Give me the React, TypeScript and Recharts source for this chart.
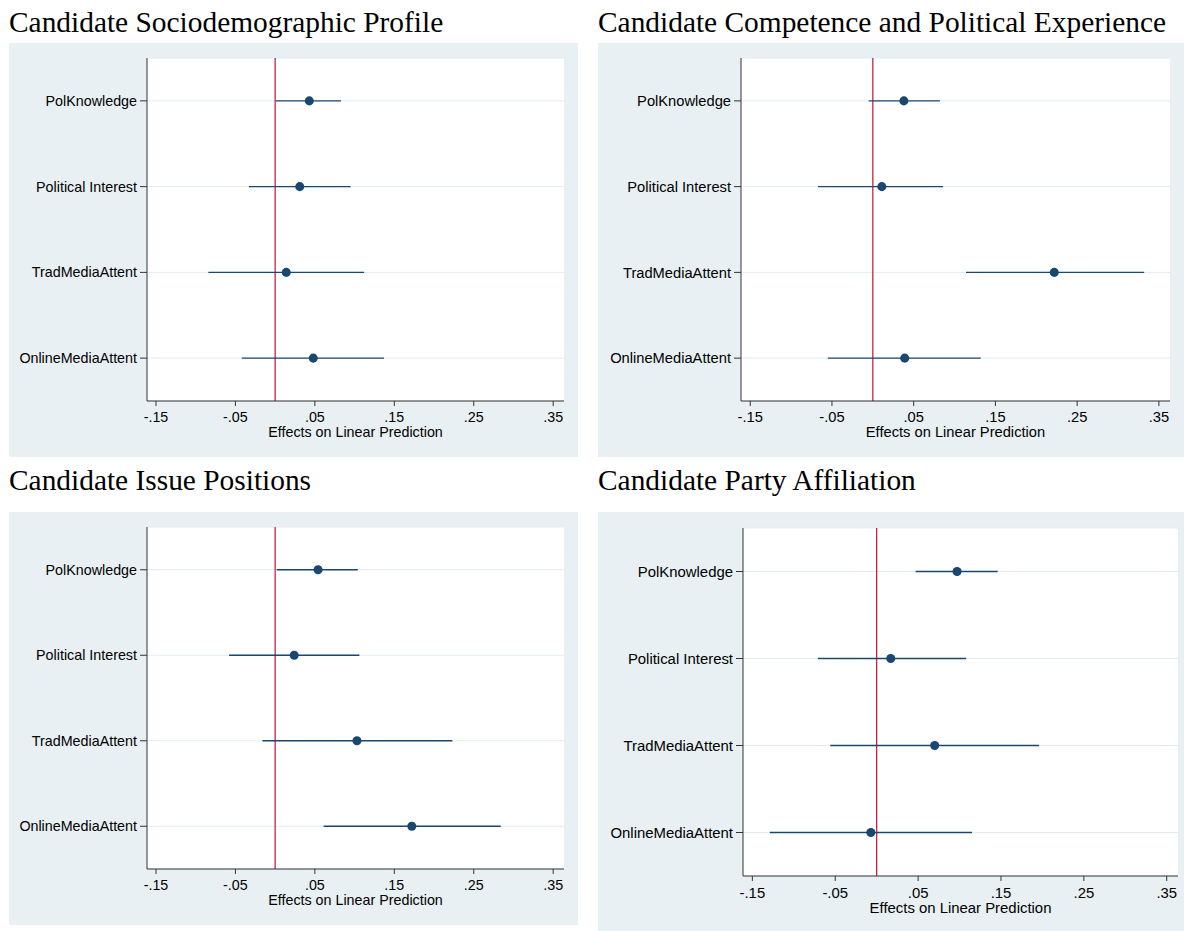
import React from 'react';
import {
  ScatterChart,
  Scatter,
  XAxis,
  YAxis,
  ZAxis,
  CartesianGrid,
  ReferenceLine,
  ErrorBar,
} from 'recharts';

const predictors = ['PolKnowledge', 'Political Interest', 'TradMediaAttent', 'OnlineMediaAttent'];
const xTicks = [-0.15, -0.05, 0.05, 0.15, 0.25, 0.35];

// point estimates and 95% CI bounds
const socioEst = [0.043, 0.031, 0.014, 0.048];
const socioLo = [0.001, -0.033, -0.084, -0.042];
const socioHi = [0.083, 0.095, 0.112, 0.137];

const compEst = [0.038, 0.011, 0.222, 0.039];
const compLo = [-0.005, -0.067, 0.114, -0.055];
const compHi = [0.082, 0.086, 0.332, 0.132];

const issueEst = [0.054, 0.024, 0.103, 0.172];
const issueLo = [0.002, -0.058, -0.016, 0.061];
const issueHi = [0.104, 0.106, 0.223, 0.284];

const partyEst = [0.097, 0.017, 0.07, -0.007];
const partyLo = [0.047, -0.071, -0.056, -0.129];
const partyHi = [0.146, 0.108, 0.196, 0.115];

const SANS = '"Liberation Sans", Arial, Helvetica, sans-serif';
const SERIF = '"Liberation Serif", "Times New Roman", serif';
const NAVY = '#1a476f';
const PANEL_BG = '#e9f0f3';

const fmtTick = (v: number) => v.toFixed(2).replace('0.', '.');

interface PanelProps {
  title: string;
  est: number[];
  lo: number[];
  hi: number[];
  box: { x: number; y: number; w: number; h: number };
  plot: { left: number; top: number; width: number; height: number };
  titleTop: number;
  fontSize: number;
}

const CoefPanel: React.FC<PanelProps> = ({ title, est, lo, hi, box, plot, titleTop, fontSize }) => {
  const data = predictors.map((name, i) => ({
    name,
    pos: i + 1,
    est: est[i],
    err: [est[i] - lo[i], hi[i] - est[i]],
  }));
  const bottom = box.h - plot.top - plot.height;
  const right = box.w - plot.left - plot.width;

  return (
    <>
      <div
        style={{
          position: 'absolute',
          left: box.x,
          top: titleTop,
          fontFamily: SERIF,
          fontSize: 29.4,
          lineHeight: '29px',
          whiteSpace: 'nowrap',
          color: '#000',
        }}
      >
        {title}
      </div>
      <div style={{ position: 'absolute', left: box.x, top: box.y, width: box.w, height: box.h, background: PANEL_BG }}>
        <ScatterChart
          width={box.w}
          height={box.h}
          margin={{ top: plot.top, right, left: 0, bottom: 0 }}
        >
          <CartesianGrid vertical={false} stroke="#e3ecef" fill="#ffffff" fillOpacity={1} />
          <XAxis
            type="number"
            dataKey="est"
            domain={[-0.1613, 0.3636]}
            allowDataOverflow
            ticks={xTicks}
            interval={0}
            tickFormatter={fmtTick}
            height={bottom}
            tickSize={5}
            tickMargin={6}
            axisLine={{ stroke: '#333' }}
            tickLine={{ stroke: '#333' }}
            tick={{ fill: '#000', fontSize, fontFamily: SANS }}
            label={{
              value: 'Effects on Linear Prediction',
              position: 'insideTop',
              offset: 26,
              fill: '#000',
              fontSize,
              fontFamily: SANS,
            }}
          />
          <YAxis
            type="number"
            dataKey="pos"
            domain={[0.5, 4.5]}
            reversed
            ticks={[1, 2, 3, 4]}
            interval={0}
            tickFormatter={(v: number) => predictors[v - 1]}
            width={plot.left}
            tickSize={7}
            tickMargin={3}
            axisLine={{ stroke: '#333' }}
            tickLine={{ stroke: '#333' }}
            tick={{ fill: '#000', fontSize, fontFamily: SANS }}
          />
          <ZAxis range={[64, 64]} />
          <ReferenceLine x={0} stroke="#c8102e" strokeWidth={1.2} />
          <Scatter data={data} fill={NAVY} isAnimationActive={false}>
            <ErrorBar
              dataKey="err"
              direction="x"
              width={0}
              stroke={NAVY}
              strokeWidth={1.3}
              isAnimationActive={false}
            />
          </Scatter>
        </ScatterChart>
      </div>
    </>
  );
};

export default function App() {
  return (
    <div style={{ position: 'absolute', left: 0, top: 0, width: 1184, height: 931, background: '#fff' }}>
      <CoefPanel
        title="Candidate Sociodemographic Profile"
        est={socioEst}
        lo={socioLo}
        hi={socioHi}
        box={{ x: 9, y: 43, w: 569, h: 414 }}
        plot={{ left: 138, top: 15, width: 417, height: 343 }}
        titleTop={8}
        fontSize={14.3}
      />
      <CoefPanel
        title="Candidate Competence and Political Experience"
        est={compEst}
        lo={compLo}
        hi={compHi}
        box={{ x: 598, y: 43, w: 586, h: 414 }}
        plot={{ left: 143, top: 15, width: 429, height: 343 }}
        titleTop={8}
        fontSize={14.7}
      />
      <CoefPanel
        title="Candidate Issue Positions"
        est={issueEst}
        lo={issueLo}
        hi={issueHi}
        box={{ x: 9, y: 512, w: 569, h: 413 }}
        plot={{ left: 138, top: 15, width: 417, height: 342 }}
        titleTop={466}
        fontSize={14.3}
      />
      <CoefPanel
        title="Candidate Party Affiliation"
        est={partyEst}
        lo={partyLo}
        hi={partyHi}
        box={{ x: 598, y: 512, w: 586, h: 419 }}
        plot={{ left: 145, top: 16, width: 435, height: 348 }}
        titleTop={466}
        fontSize={14.9}
      />
    </div>
  );
}
